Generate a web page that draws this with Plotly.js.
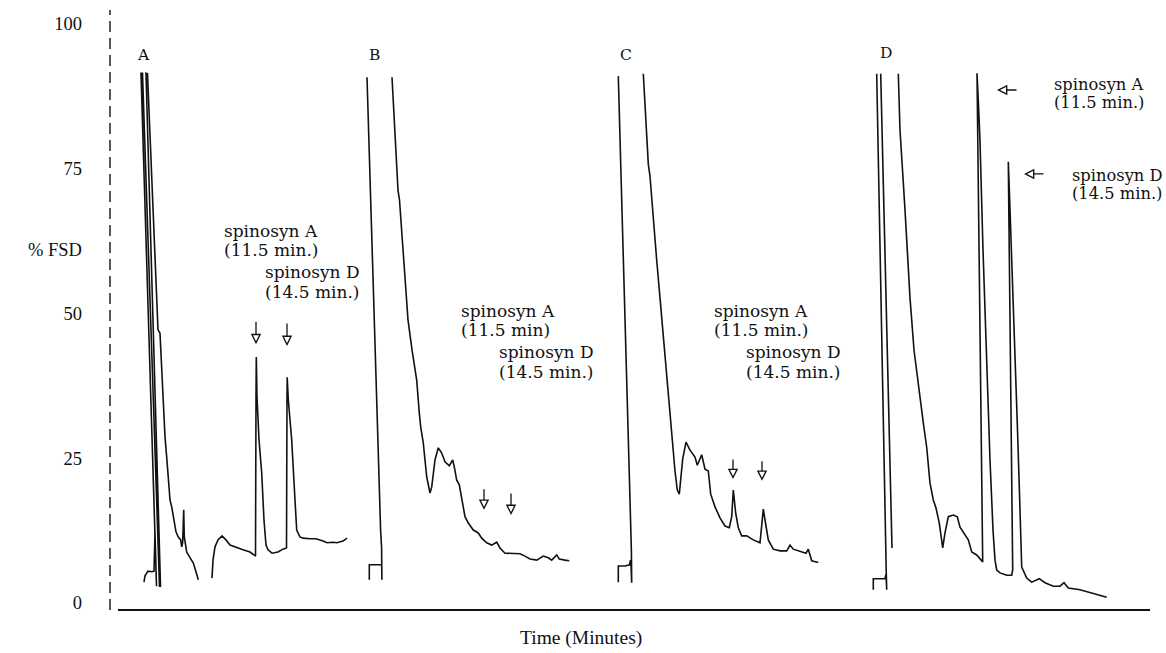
<!DOCTYPE html>
<html><head><meta charset="utf-8">
<script src="https://cdn.plot.ly/plotly-3.0.1.min.js"></script>
<style>html,body{margin:0;padding:0;background:#fff}#chart{width:1166px;height:653px}</style>
</head><body><div id="chart"></div>
<script>
// ---- Data (time in minutes, response in % FSD) ----
const aTime = [0.30,0.40,0.70,1.10,1.30,1.40,1.55,0.00,0.15,1.85,1.95,0.50,0.65,1.17,1.57,1.70,1.90,2.23,2.40,2.57,2.73,2.90,3.07,3.23,3.50,3.73,3.97,4.07,4.17,4.27,4.33,4.57,4.90,5.23,5.50,5.73,null,7.10,7.20,7.40,7.70,8.10,8.50,8.90,9.60,10.20,10.90,11.45,11.50,11.53,11.60,11.80,12.07,12.30,12.50,12.70,13.10,13.70,14.20,14.55,14.60,14.62,14.73,15.07,15.40,15.57,15.90,16.20,16.90,17.50,18.20,18.60,19.20,19.60,20.20,20.60];
const aFSD  = [3.6,4.7,5.5,5.4,5.5,12.3,2.9,91.5,91.5,2.9,2.9,91.5,91.4,69.6,50.6,47.2,46.6,32.8,28.7,25.2,21.2,17.8,16.6,14.9,12.3,11.4,10.9,9.7,10.5,16.1,11.4,8.8,7.9,6.9,5.4,4.0,null,4.3,7.4,9.7,10.9,11.6,10.9,10.0,9.5,9.2,8.8,8.1,35.1,42.5,35.6,28.2,22.5,14.3,10.0,9.2,8.6,8.8,9.3,9.5,35.1,39.0,35.1,28.2,17.8,12.6,11.4,11.2,11.1,11.1,10.7,10.4,10.5,10.4,10.7,11.2];

const bTime = [0.13,0.13,0.70,1.37,1.39,1.36,1.26,-0.10,null,2.40,2.70,3.00,3.15,3.25,3.60,4.00,4.40,4.70,4.87,5.13,5.27,5.53,5.87,6.20,6.37,6.70,7.03,7.37,7.70,8.13,8.47,8.63,8.87,9.13,9.37,9.70,10.03,10.53,11.03,11.37,11.87,12.37,12.87,13.20,13.70,14.37,15.20,15.70,16.20,16.87,17.53,18.03,18.37,18.87,19.13,19.70,20.13];
const bFSD  = [4.0,6.6,6.6,6.6,4.0,9.5,12.6,90.8,null,90.8,80.0,71.3,69.6,67.0,57.5,48.9,43.7,40.2,38.5,32.8,30.4,27.6,21.8,19.0,20.0,24.7,26.8,25.9,24.4,23.7,24.7,23.5,21.2,20.4,17.8,14.9,13.8,12.6,12.1,11.2,10.4,10.0,10.5,9.5,8.6,8.5,8.5,8.1,7.6,7.4,8.1,7.8,7.4,8.3,7.6,7.4,7.3];

const cTime = [0.03,0.03,0.70,1.15,1.25,1.30,1.37,1.34,0.03,null,2.53,2.70,3.03,3.20,3.53,3.87,4.20,4.53,4.87,5.20,5.47,5.70,5.93,6.13,6.47,6.80,7.20,7.70,7.93,8.37,8.70,9.03,9.27,9.70,10.20,10.70,11.13,11.37,11.53,11.77,12.03,12.37,12.87,13.53,14.20,14.37,14.53,14.77,15.03,15.53,16.20,16.87,17.20,17.53,18.20,18.80,19.03,19.37,20.03];
const cFSD  = [3.6,6.4,6.4,6.6,7.4,6.6,3.5,9.0,91.0,null,91.4,85.7,75.8,73.7,65.8,59.2,52.7,45.9,39.4,32.8,27.5,22.8,19.5,18.8,24.9,27.8,26.4,25.2,23.8,25.6,23.1,22.8,18.8,16.6,14.7,13.3,13.0,14.9,19.5,15.5,13.0,11.6,11.6,10.9,10.4,13.0,16.2,13.6,10.9,9.3,9.0,9.0,10.0,9.3,9.0,8.6,9.3,7.3,7.0];

const dTime = [1.13,1.13,1.70,2.30,2.40,2.47,2.42,1.47,null,1.87,3.00,null,3.63,3.80,4.30,4.80,5.20,5.63,5.80,6.13,6.47,6.80,7.13,7.40,7.73,8.07,8.30,8.63,9.13,9.53,9.80,10.30,10.63,10.97,11.47,12.07,11.50,11.65,11.80,12.10,12.35,12.53,12.80,13.10,13.30,13.47,13.80,14.47,14.97,15.07,14.63,14.75,14.87,15.10,15.35,15.55,15.80,15.90,15.97,16.47,16.97,17.73,18.30,19.13,19.80,20.20,20.63,21.80,23.30,24.47];
const dFSD  = [2.3,4.2,4.2,4.2,5.0,2.3,5.7,91.4,null,91.4,9.5,null,91.4,81.7,67.9,52.7,43.7,37.7,35.1,31.1,26.9,20.7,17.8,16.4,13.8,9.5,12.1,14.9,15.2,14.9,13.1,11.7,10.9,8.8,8.3,7.1,91.5,86.0,79.8,61.0,47.2,38.5,24.7,12.6,7.4,5.7,5.2,4.8,4.8,5.7,76.2,70.5,64.9,52.3,40.2,29.9,16.1,10.0,6.2,4.3,3.6,4.2,3.5,2.9,2.9,3.5,2.6,2.3,1.6,1.0];

const panelLetters = ['A','B','C','D'];
const peakNames = ['spinosyn A','spinosyn D'];
const retTimesA = ['(11.5 min.)','(11.5 min)','(11.5 min.)','(11.5 min.)'];
const retTimeD = '(14.5 min.)';
const yTickVals = [0,25,50,75,100];
const yTickText = ['0','25','50','75','100'];
const xTitle = 'Time (Minutes)';
const yTitle = '% FSD';

// ---- Layout helpers ----
const L = 110, W = 1040, PXMIN = 10;           // plot left, width, px per minute
const panelT0 = [141, 368, 618, 862];           // pixel of t = 0 for each panel
const panelRange = [[-0.5,21],[-0.5,21],[-0.5,21],[-0.5,25]];
function dom(i){ const r = panelRange[i]; return [(panelT0[i]+r[0]*PXMIN-L)/W, (panelT0[i]+r[1]*PXMIN-L)/W]; }

const series = [[aTime,aFSD],[bTime,bFSD],[cTime,cFSD],[dTime,dFSD]];
const traces = series.map((s,i)=>({
  type:'scatter', mode:'lines', x:s[0], y:s[1], xaxis:'x'+(i+2), yaxis:'y',
  line:{color:'#111', width:1.6}, connectgaps:false, hoverinfo:'skip', showlegend:false
}));

const SERIF = 'DejaVu Serif, serif';
const anns = [];
function txt(i, x, y, text, size, opts){
  anns.push(Object.assign({xref:'x'+(i+2), yref:'y', x:x, y:y, text:text, showarrow:false,
    xanchor:'left', yanchor:'middle', font:{family:SERIF, size:size, color:'#111'}}, opts||{}));
}
function hollowArrow(i, x, y, ax, ay){
  const base = {xref:'x'+(i+2), yref:'y', x:x, y:y, text:'', showarrow:true, axref:'pixel', ayref:'pixel'};
  anns.push(Object.assign({}, base, {ax:ax, ay:ay, arrowhead:2, arrowsize:1.6, arrowwidth:1.3, arrowcolor:'#111'}));
  const len = Math.hypot(ax, ay), k = 8.9/len;
  anns.push(Object.assign({}, base, {ax:ax*k, ay:ay*k, arrowhead:2, arrowsize:2.4, arrowwidth:0.5, arrowcolor:'#fff', standoff:3.0}));
}

// panel letters
const letterPos = [[0.2,94.6],[0.6,94.6],[0.8,94.6],[2.4,95.0]];
letterPos.forEach((p,i)=>txt(i,p[0],p[1],panelLetters[i],15.5,{xanchor:'center'}));

// peak labels [nameA x,y, retA y, nameD x,y, retD y, font size]
const labelPos = [[8.1,64.2,61.0,12.2,57.2,53.7,17],[9.1,50.4,47.2,12.9,43.4,39.9,17],[9.4,50.4,47.2,12.6,43.4,39.9,17],[19.0,89.6,86.4,20.8,73.9,70.8,16.3]];
labelPos.forEach((p,i)=>{
  txt(i,p[0],p[1],peakNames[0],p[6]); txt(i,p[0],p[2],retTimesA[i],p[6]);
  txt(i,p[3],p[4],peakNames[1],p[6]); txt(i,p[3],p[5],retTimeD,p[6]);
});

// arrows [x, y, ax, ay]
const arrowPos = [[[11.5,44.7,0,-24],[14.6,44.4,0,-24]],[[11.6,16.1,0,-22],[14.3,15.2,0,-23]],[[11.5,21.4,0,-21],[14.4,21.1,0,-21]],[[13.5,88.6,21,0],[16.2,74.1,21,0]]];
arrowPos.forEach((pair,i)=>pair.forEach(a=>hollowArrow(i,a[0],a[1],a[2],a[3])));

// axis titles
anns.push({xref:'paper', yref:'paper', x:(581-L)/W, y:(610-638)/600, text:xTitle, showarrow:false,
  xanchor:'center', yanchor:'middle', font:{family:'Liberation Serif, serif', size:19.5, color:'#111'}});
anns.push({xref:'paper', yref:'paper', x:(55-L)/W, y:(610-250)/600, text:yTitle, showarrow:false,
  xanchor:'center', yanchor:'middle', font:{family:'Liberation Serif, serif', size:18.5, color:'#111'}});

const layout = {
  width:1166, height:653, margin:{l:L, r:1166-L-W, t:10, b:43},
  paper_bgcolor:'#fff', plot_bgcolor:'rgba(0,0,0,0)', showlegend:false,
  yaxis:{range:[-1.21,102.42], anchor:'free', position:0, side:'left', showgrid:false, zeroline:false,
    showline:false, ticks:'', tickmode:'array', tickvals:yTickVals, ticktext:yTickText, ticklabelstandoff:28,
    tickfont:{family:'Liberation Serif, serif', size:18.5, color:'#111'}},
  annotations:anns,
  shapes:[
    {type:'line', xref:'paper', yref:'paper', x0:(118-L)/W, x1:1, y0:0, y1:0, line:{color:'#111', width:2}},
    {type:'line', xref:'paper', yref:'paper', x0:0, x1:0, y0:0, y1:1, line:{color:'#111', width:1.4, dash:'11px,6px'}}
  ]
};
for(let i=0;i<4;i++){
  layout['xaxis'+(i+2)] = {domain:dom(i), range:panelRange[i], anchor:'y', visible:false, fixedrange:true};
}
Plotly.newPlot('chart', traces, layout, {staticPlot:true, displayModeBar:false});
</script></body></html>
